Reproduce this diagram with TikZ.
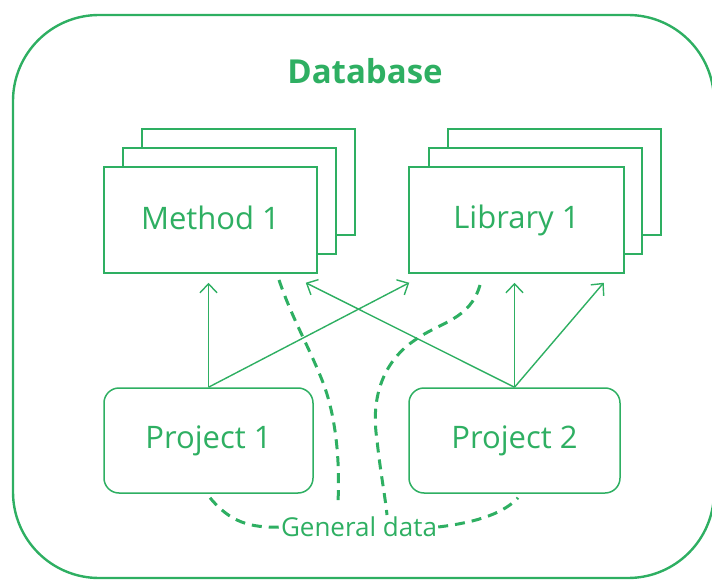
\documentclass[tikz,border=0pt]{standalone}
\usepackage{fontspec}
\setmainfont{Open Sans}
\usepackage{tikz}
\usetikzlibrary{calc,arrows.meta}
\definecolor{dbgreen}{HTML}{2EAF62}
\tikzset{
  outer/.style={draw=dbgreen, line width=2.4pt, rounded corners=86pt},
  sheet/.style={draw=dbgreen, fill=white, line width=1.5pt, minimum width=213pt, minimum height=106pt,
    text=dbgreen, font=\fontsize{31}{36}\selectfont},
  proj/.style={draw=dbgreen, fill=white, line width=1.5pt, rounded corners=15pt, minimum width=209pt,
    minimum height=105pt, text=dbgreen, font=\fontsize{31}{36}\selectfont},
  uses/.style={draw=dbgreen, line width=1.4pt, -{Straight Barb[length=9pt,width=17pt]}},
  gen/.style={draw=dbgreen, line width=3pt, dash pattern=on 10pt off 7pt},
  lab/.style={text=dbgreen, font=\fontsize{26}{30}\selectfont, inner sep=1pt},
}

\begin{document}
\begin{tikzpicture}[x=1pt,y=-1pt]
  \useasboundingbox (0,0) rectangle (712,580);
  \draw[outer] (13,15) rectangle (714,578);
  \node[text=dbgreen, font=\fontsize{33}{38}\selectfont\bfseries] (title) at (365,71) {Database};
  % stacked sheets
  \foreach \X/\x in {m/210.5,l/516.5}{
    \node[sheet] (\X3) at (\x+38,182) {};
    \node[sheet] (\X2) at (\x+19,201) {};
  }
  \node[sheet] (m1) at (210.5,220) {\raisebox{4pt}{Method 1}};
  \node[sheet, minimum width=215pt] (l1) at (516.5,220) {\raisebox{4pt}{Library 1}};
  \node[proj] (p1) at (208.5,440.5) {Project 1};
  \node[proj, minimum width=211pt] (p2) at (514.5,440.5) {Project 2};
  \node[lab] (gd) at (359,527) {General data};
  % links
  \draw[uses, shorten >=9pt] (p1.north) -- (p1.north |- m1.south);
  \draw[uses] (p1.north) -- ($(l1.south west)+(1,9)$);
  \draw[uses, shorten >=9pt] (p2.north) -- (p2.north |- l1.south);
  \draw[uses] (p2.north) -- ($(l1.south east)+(-21,9)$);
  \draw[uses] (p2.north) -- ($(m1.south east)+(-12,9)$);
  % general data
  \draw[gen] (279,280) .. controls (292,318) and (308,345) .. (322,380)
    .. controls (336,415) and (340,460) .. (338,502);
  \draw[gen] (480,285) .. controls (470,320) and (440,322) .. (415,340)
    .. controls (385,360) and (370,395) .. (377,440)
    .. controls (380,470) and (385,495) .. (387,515);
  \draw[gen] ($(p1.south)+(1.5,4)$) .. controls (230,522) and (250,528) .. (gd.west);
  \draw[gen] (gd.east) .. controls (480,522) and (505,512) .. ($(p2.south)+(3.5,4)$);
\end{tikzpicture}
\end{document}
